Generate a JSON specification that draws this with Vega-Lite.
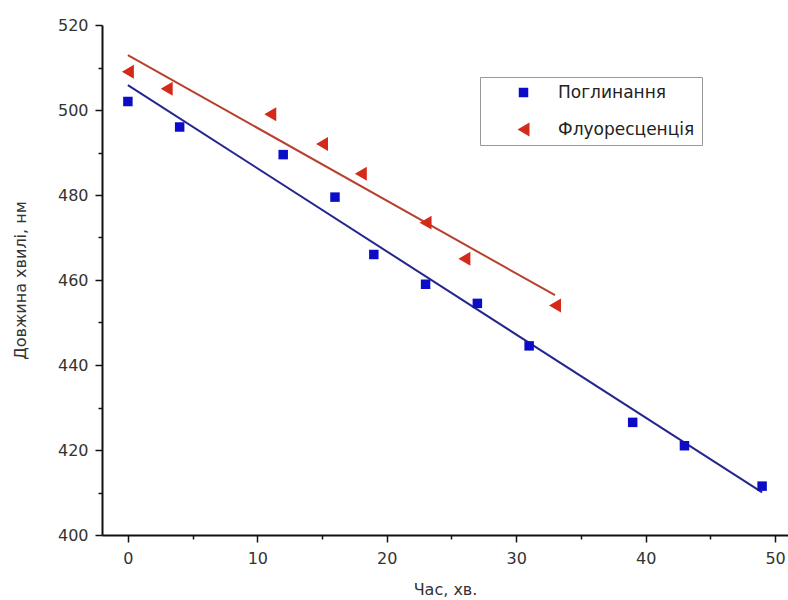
{
  "$schema": "https://vega.github.io/schema/vega-lite/v6.json",
  "width": 686,
  "height": 510,
  "autosize": {"type": "none"},
  "padding": {"left": 102, "top": 25, "right": 0, "bottom": 65},
  "background": "white",
  "config": {"view": {"stroke": null}, "font": "DejaVu Sans"},
  "data": {
    "values": [
      {"series": "Поглинання", "t": 0, "wl": 502},
      {"series": "Поглинання", "t": 4, "wl": 496},
      {"series": "Поглинання", "t": 12, "wl": 489.5},
      {"series": "Поглинання", "t": 16, "wl": 479.5},
      {"series": "Поглинання", "t": 19, "wl": 466},
      {"series": "Поглинання", "t": 23, "wl": 459},
      {"series": "Поглинання", "t": 27, "wl": 454.5},
      {"series": "Поглинання", "t": 31, "wl": 444.5},
      {"series": "Поглинання", "t": 39, "wl": 426.5},
      {"series": "Поглинання", "t": 43, "wl": 421},
      {"series": "Поглинання", "t": 49, "wl": 411.5},
      {"series": "Флуоресценція", "t": 0, "wl": 509},
      {"series": "Флуоресценція", "t": 3, "wl": 505},
      {"series": "Флуоресценція", "t": 11, "wl": 499},
      {"series": "Флуоресценція", "t": 15, "wl": 492},
      {"series": "Флуоресценція", "t": 18, "wl": 485},
      {"series": "Флуоресценція", "t": 23, "wl": 473.5},
      {"series": "Флуоресценція", "t": 26, "wl": 465},
      {"series": "Флуоресценція", "t": 33, "wl": 454}
    ]
  },
  "encoding": {
    "x": {
      "field": "t",
      "type": "quantitative",
      "scale": {"domain": [-2, 51], "nice": false, "zero": false},
      "axis": {
        "title": "Час, хв.",
        "values": [0, 5, 10, 15, 20, 25, 30, 35, 40, 45, 50],
        "labelExpr": "datum.value % 10 === 0 ? datum.label : ''",
        "tickSize": {"condition": {"test": "datum.value % 10 === 0", "value": 7}, "value": 4},
        "grid": false,
        "domainColor": "#111",
        "domainWidth": 2,
        "tickColor": "#111",
        "tickWidth": 1.5,
        "labelFontSize": 16,
        "labelColor": "#333",
        "labelPadding": 8,
        "titleFontSize": 16,
        "titleFontWeight": "normal",
        "titleColor": "#333",
        "titlePadding": 15
      }
    },
    "y": {
      "field": "wl",
      "type": "quantitative",
      "scale": {"domain": [400, 520], "nice": false, "zero": false},
      "axis": {
        "title": "Довжина хвилі, нм",
        "values": [400, 410, 420, 430, 440, 450, 460, 470, 480, 490, 500, 510, 520],
        "labelExpr": "datum.value % 20 === 0 ? datum.label : ''",
        "tickSize": {"condition": {"test": "datum.value % 20 === 0", "value": 7}, "value": 4},
        "grid": false,
        "domainColor": "#111",
        "domainWidth": 2,
        "tickColor": "#111",
        "tickWidth": 1.5,
        "labelFontSize": 16,
        "labelColor": "#333",
        "labelPadding": 7,
        "titleFontSize": 16,
        "titleFontWeight": "normal",
        "titleColor": "#333",
        "titlePadding": 29
      }
    }
  },
  "layer": [
    {
      "transform": [
        {"filter": "datum.series === 'Поглинання'"},
        {"regression": "wl", "on": "t"}
      ],
      "mark": {"type": "line", "color": "#25258f", "strokeWidth": 2}
    },
    {
      "transform": [
        {"filter": "datum.series === 'Флуоресценція'"},
        {"regression": "wl", "on": "t"}
      ],
      "mark": {"type": "line", "color": "#b8402e", "strokeWidth": 2}
    },
    {
      "mark": {"type": "point", "filled": true, "opacity": 1},
      "encoding": {
        "color": {
          "field": "series",
          "type": "nominal",
          "scale": {"domain": ["Поглинання", "Флуоресценція"], "range": ["#0c0cc8", "#d42a1a"]},
          "legend": {
            "title": null,
            "orient": "none",
            "legendX": 378,
            "legendY": 52,
            "padding": 7,
            "strokeColor": "#999",
            "fillColor": "white",
            "labelFontSize": 17,
            "labelColor": "#222",
            "symbolOffset": 28,
            "labelOffset": 26,
            "rowPadding": 19
          }
        },
        "shape": {
          "field": "series",
          "type": "nominal",
          "scale": {"domain": ["Поглинання", "Флуоресценція"], "range": ["square", "triangle-left"]},
          "legend": {
            "title": null,
            "orient": "none",
            "legendX": 378,
            "legendY": 52,
            "padding": 7,
            "strokeColor": "#999",
            "fillColor": "white",
            "labelFontSize": 17,
            "labelColor": "#222",
            "symbolOffset": 28,
            "labelOffset": 26,
            "rowPadding": 19
          }
        },
        "size": {
          "field": "series",
          "type": "nominal",
          "scale": {"domain": ["Поглинання", "Флуоресценція"], "range": [90, 190]},
          "legend": {
            "title": null,
            "orient": "none",
            "legendX": 378,
            "legendY": 52,
            "padding": 7,
            "strokeColor": "#999",
            "fillColor": "white",
            "labelFontSize": 17,
            "labelColor": "#222",
            "symbolOffset": 28,
            "labelOffset": 26,
            "rowPadding": 19
          }
        }
      }
    }
  ]
}
